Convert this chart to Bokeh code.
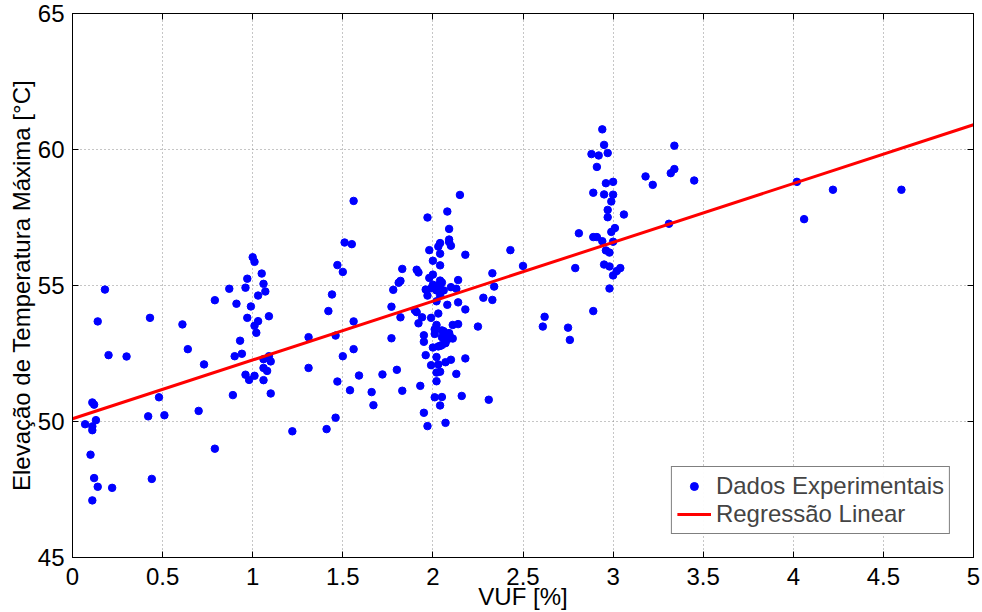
from bokeh.plotting import figure
from bokeh.models import (Range1d, FixedTicker, LinearAxis, Legend, LegendItem, ColumnDataSource,
                          CustomJSTickFormatter)
from bokeh.embed import file_html
from bokeh.resources import INLINE

# ---- data ----
vuf = [
    0.18, 0.14, 0.20, 0.30, 0.11, 0.12, 0.07, 0.11, 0.11, 0.13, 0.10, 0.12, 0.14, 0.22, 0.11,
    0.43, 0.48, 0.42, 0.51, 0.44, 0.61, 0.64, 0.73, 0.70, 0.79, 0.79, 0.87, 0.91, 0.96, 0.97,
    1.05, 1.06, 1.03, 1.07, 0.99, 0.97, 1.03, 1.09, 1.01, 1.02, 0.93, 0.90, 0.94, 1.06, 1.09,
    1.10, 1.06, 1.08, 0.96, 1.01, 0.98, 1.06, 1.10, 0.89, 1.22, 1.31, 1.31, 1.00, 1.01,
    1.41, 1.46, 1.51, 1.55, 1.47, 1.50, 1.44, 1.42, 1.56, 1.46, 1.56, 1.50, 1.47, 1.54, 1.59,
    1.66, 1.67, 1.72, 1.80, 1.83, 1.77, 1.82, 1.77, 1.78, 1.81, 1.82, 1.83, 1.91, 1.92, 1.56,
    1.90, 1.91, 1.94, 1.92, 1.93, 1.95, 1.95, 1.95, 1.96, 1.96,
    2.15, 1.97, 2.08, 2.09, 2.09, 2.09, 2.10, 2.04, 2.03, 2.04, 1.98, 2.18, 2.00, 2.04, 2.00,
    1.98, 2.14, 2.04, 2.05, 2.00, 2.04, 2.02, 2.06, 2.10, 2.13, 1.99, 2.02, 1.97, 2.04, 2.02,
    2.08, 2.14, 2.18, 1.99, 2.03, 2.02, 2.01, 2.06, 2.11, 2.14, 2.05, 2.07, 2.09, 2.06, 2.09,
    2.11, 2.07, 2.05, 2.03, 2.00, 2.01, 2.05, 2.09, 2.10, 2.07, 2.04, 2.02, 2.18, 2.10, 2.07,
    1.99, 2.03, 2.02, 2.04, 2.13, 2.02, 2.01, 2.05, 2.16, 2.04, 1.97, 2.07,
    2.43, 2.50, 2.33, 2.34, 2.28, 2.33, 2.25, 2.31, 2.61, 2.62, 2.75, 2.76, 2.79, 2.81,
    2.94, 2.95, 2.88, 2.92, 2.97, 2.91, 2.96, 3.00, 2.89, 2.95, 3.00, 2.99, 2.97, 2.97, 3.06,
    3.01, 2.99, 2.89, 2.91, 2.94, 3.00, 2.96, 2.98, 2.95, 2.98, 3.04, 3.02, 3.00, 2.98, 2.89,
    3.34, 3.18, 3.22, 3.32, 3.34, 3.31, 3.45, 4.02, 4.22, 4.06, 4.60,
]
temp_rise = [
    54.85, 53.68, 52.44, 52.39, 50.70, 50.62, 49.90, 49.82, 49.68, 50.05, 48.78, 47.92, 47.60, 47.56, 47.10,
    53.81, 50.89, 50.19, 50.23, 47.89, 53.57, 52.66, 52.10, 50.39, 49.00, 54.46, 54.88, 54.33, 54.92, 55.25,
    55.44, 55.06, 54.63, 54.78, 54.23, 53.81, 53.69, 53.87, 53.52, 53.26, 52.97, 52.40, 52.49, 52.29, 52.40,
    52.21, 51.97, 51.86, 51.72, 51.68, 51.53, 51.52, 51.03, 50.97, 49.64, 53.10, 51.97, 56.04, 55.87,
    49.72, 50.14, 56.58, 56.52, 55.75, 55.50, 54.67, 54.06, 53.68, 53.16, 52.66, 52.40, 51.47, 51.15, 51.69,
    51.08, 50.60, 51.73, 51.90, 51.13, 53.06, 53.83, 54.22, 54.84, 55.10, 55.17, 55.61, 55.58, 55.48, 58.11,
    54.09, 54.02, 53.83, 53.61, 51.31, 53.17, 52.93, 50.32, 54.85, 52.44,
    58.33, 57.50, 57.72, 57.08, 56.69, 56.60, 56.46, 56.56, 56.43, 56.17, 56.30, 56.13, 55.91, 55.74, 55.40,
    55.28, 55.20, 55.18, 55.11, 55.03, 55.03, 54.82, 54.82, 54.94, 54.88, 54.90, 54.98, 54.63, 54.63, 54.42,
    54.29, 54.38, 54.12, 53.81, 53.97, 53.55, 53.39, 53.32, 53.55, 53.58, 53.35, 53.22, 53.25, 53.11, 53.05,
    53.05, 52.93, 52.81, 52.76, 52.72, 53.22, 53.10, 53.22, 53.08, 52.88, 52.78, 52.37, 52.32, 52.27, 52.18,
    52.07, 52.10, 51.80, 51.83, 51.75, 51.48, 50.89, 50.90, 50.94, 50.59, 49.83, 49.95,
    56.30, 55.72, 55.45, 54.96, 54.55, 54.47, 53.49, 50.80, 53.49, 53.85, 53.45, 53.00, 55.64, 56.92,
    60.74, 60.17, 59.83, 59.78, 59.87, 59.36, 58.76, 58.81, 58.41, 58.35, 58.34, 58.09, 57.78, 57.51, 57.61,
    57.11, 56.97, 56.78, 56.78, 56.63, 56.61, 56.29, 56.21, 55.77, 55.70, 55.64, 55.53, 55.37, 54.89, 54.06,
    60.14, 59.01, 58.70, 59.13, 59.28, 57.27, 58.86, 58.81, 58.52, 57.44, 58.52,
]
fit_x = [0.0, 5.0]
fit_y = [50.10, 60.91]

x_ticks = [0, 0.5, 1, 1.5, 2, 2.5, 3, 3.5, 4, 4.5, 5]
x_tick_labels = ["0", "0.5", "1", "1.5", "2", "2.5", "3", "3.5", "4", "4.5", "5"]
y_ticks = [45, 50, 55, 60, 65]

x_title = "VUF [%]"
y_title = "Elevação de Temperatura Máxima [°C]"
legend_labels = ["Dados Experimentais", "Regressão Linear"]

FONT = "Liberation Sans"
FS = "24px"

p = figure(width=980, height=612, output_backend="svg", toolbar_location=None,
           x_range=Range1d(0, 5), y_range=Range1d(45, 65),
           min_border_left=72, min_border_right=7, min_border_top=13, min_border_bottom=55)
p.background_fill_color = "white"
p.border_fill_color = "white"
p.outline_line_color = "black"
p.outline_line_width = 1

src = ColumnDataSource(dict(x=vuf, y=temp_rise))
pts = p.scatter("x", "y", source=src, size=7.5, color="#0000ff", line_color="#0000ff")
fit = p.line(fit_x, fit_y, line_color="#ff0000", line_width=3)

# box ticks on top / right (no labels)
blank = CustomJSTickFormatter(code="return ''")
p.add_layout(LinearAxis(ticker=FixedTicker(ticks=x_ticks), formatter=blank,
                        major_label_standoff=0), "above")
p.add_layout(LinearAxis(ticker=FixedTicker(ticks=y_ticks), formatter=blank,
                        major_label_standoff=0), "right")

for ax in p.axis:
    ax.axis_line_color = "black"
    ax.major_tick_in = 6
    ax.major_tick_out = 0
    ax.minor_tick_line_color = None
    ax.major_label_text_font = FONT
    ax.major_label_text_color = "black"
    ax.major_label_text_font_size = FS
    ax.axis_label_text_font = FONT
    ax.axis_label_text_font_size = FS
    ax.axis_label_text_font_style = "normal"
    ax.axis_label_text_color = "black"

p.below[0].ticker = FixedTicker(ticks=x_ticks)
p.below[0].major_label_overrides = {t: l for t, l in zip(x_ticks, x_tick_labels)}
p.left[0].ticker = FixedTicker(ticks=y_ticks)
p.below[0].axis_label = x_title
p.left[0].axis_label = y_title
p.below[0].major_label_standoff = 10
p.below[0].axis_label_standoff = -5
p.left[0].major_label_standoff = 8
p.left[0].axis_label_standoff = 0

p.xgrid.ticker = FixedTicker(ticks=x_ticks)
p.ygrid.ticker = FixedTicker(ticks=y_ticks)
for g in (p.xgrid[0], p.ygrid[0]):
    g.grid_line_color = "#8c8c8c"
    g.grid_line_dash = "1 3"
    g.grid_line_width = 1

legend = Legend(items=[LegendItem(label=legend_labels[0], renderers=[pts]),
                       LegendItem(label=legend_labels[1], renderers=[fit])],
                location="bottom_right")
legend.margin = 23
legend.border_line_color = "black"
legend.border_line_width = 1
legend.label_text_font = FONT
legend.label_text_font_size = FS
legend.glyph_width = 34
legend.label_standoff = 5
legend.spacing = 0
legend.padding = 5
p.add_layout(legend, "center")

open("out.html", "w").write(file_html(p, INLINE))
